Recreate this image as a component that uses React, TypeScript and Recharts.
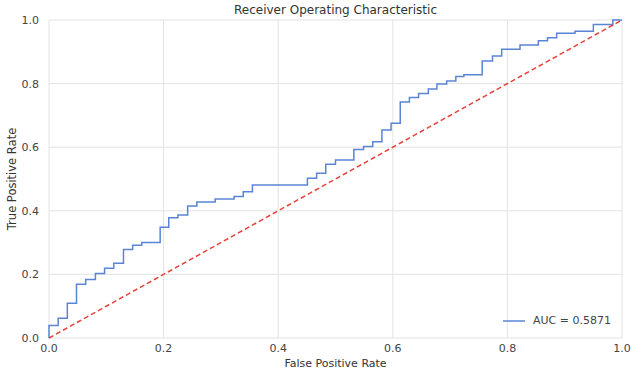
import React from "react";
import { CartesianGrid, Line, LineChart, XAxis, YAxis } from "recharts";

// ROC points (stepAfter): fpr where the jump happens, tpr after the jump
const fpr = [
  0, 0, 0.016, 0.032, 0.048, 0.064, 0.081, 0.097, 0.113, 0.13, 0.146, 0.162, 0.194, 0.209, 0.225,
  0.242, 0.258, 0.29, 0.323, 0.339, 0.355, 0.451, 0.467, 0.483, 0.5, 0.532, 0.549, 0.565, 0.581,
  0.597, 0.613, 0.629, 0.645, 0.662, 0.677, 0.694, 0.71, 0.724, 0.756, 0.774, 0.79, 0.822, 0.854,
  0.87, 0.886, 0.918, 0.95, 0.984, 1.0,
];
const tpr = [
  0, 0.039, 0.062, 0.109, 0.169, 0.184, 0.203, 0.219, 0.235, 0.278, 0.292, 0.3, 0.348, 0.378, 0.387,
  0.415, 0.428, 0.437, 0.445, 0.46, 0.481, 0.502, 0.518, 0.546, 0.56, 0.593, 0.602, 0.617, 0.654,
  0.675, 0.742, 0.756, 0.769, 0.783, 0.799, 0.808, 0.822, 0.828, 0.871, 0.887, 0.908, 0.921, 0.935,
  0.944, 0.958, 0.965, 0.986, 1.0, 1.0,
];
const diagX = [0, 1];
const ticks = [0, 0.2, 0.4, 0.6, 0.8, 1.0];
const aucLabel = "AUC = 0.5871";

const roc = fpr.map((x, i) => ({ x, y: tpr[i] }));
const diag = diagX.map((x) => ({ x, y: x }));

const font = "'DejaVu Sans', sans-serif";

export default function App() {
  return (
    <div style={{ position: "absolute", left: 0, top: 0, width: 640, height: 371, background: "#fff" }}>
      <div
        style={{
          position: "absolute",
          top: 3,
          left: 49,
          width: 573,
          textAlign: "center",
          fontFamily: font,
          fontSize: 12,
          color: "#333",
        }}
      >
        Receiver Operating Characteristic
      </div>
      <LineChart width={640} height={371} margin={{ top: 20, right: 18, bottom: 0, left: 0 }}>
        <CartesianGrid stroke="#e3e3e3" strokeWidth={1} />
        <XAxis
          type="number"
          dataKey="x"
          domain={[0, 1]}
          ticks={ticks}
          tickFormatter={(v: number) => v.toFixed(1)}
          axisLine={false}
          tickLine={false}
          height={33}
          tick={{ fontSize: 11, fill: "#444", fontFamily: font }}
          tickMargin={0}
          label={{ value: "False Positive Rate", position: "insideBottom", offset: 4, fontSize: 11, fill: "#333", fontFamily: font }}
        />
        <YAxis
          type="number"
          dataKey="y"
          domain={[0, 1]}
          ticks={ticks}
          tickFormatter={(v: number) => v.toFixed(1)}
          axisLine={false}
          tickLine={false}
          width={49}
          tick={{ fontSize: 11, fill: "#444", fontFamily: font }}
          tickMargin={4}
          label={{ value: "True Positive Rate", angle: -90, position: "insideLeft", offset: 12, fontSize: 11.5, fill: "#333", fontFamily: font, style: { textAnchor: "middle" } }}
        />
        <Line
          data={roc}
          dataKey="y"
          type="stepAfter"
          stroke="#5b84d6"
          strokeWidth={1.5}
          dot={false}
          isAnimationActive={false}
        />
        <Line
          data={diag}
          dataKey="y"
          type="linear"
          stroke="#e8413a"
          strokeWidth={1.5}
          strokeDasharray="5 3"
          dot={false}
          isAnimationActive={false}
        />
      </LineChart>
      <div
        style={{
          position: "absolute",
          left: 503,
          top: 314,
          display: "flex",
          alignItems: "center",
          fontFamily: font,
          fontSize: 11,
          color: "#444",
        }}
      >
        <svg width={22} height={10} style={{ marginRight: 8 }}>
          <line x1={0} y1={5} x2={22} y2={5} stroke="#5b84d6" strokeWidth={1.5} />
        </svg>
        {aucLabel}
      </div>
    </div>
  );
}
